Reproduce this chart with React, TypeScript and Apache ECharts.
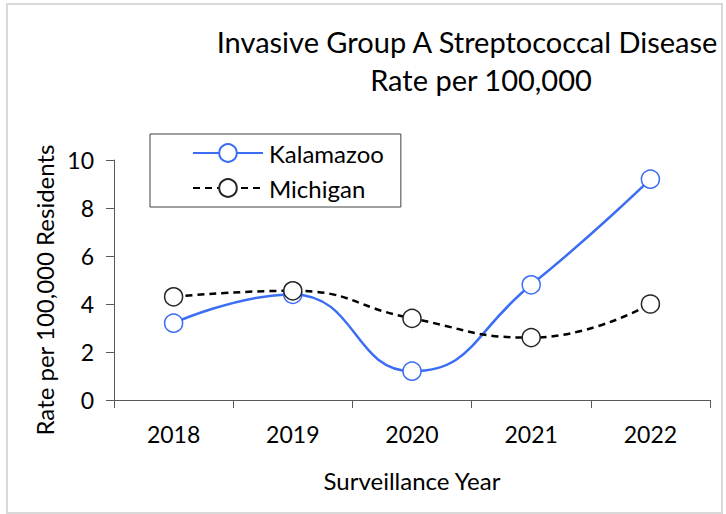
import React, { useEffect, useRef } from "react";
import * as echarts from "echarts";

const years = ["2018", "2019", "2020", "2021", "2022"];
const kalamazoo = [3.2, 4.4, 1.2, 4.8, 9.2];
const michigan = [4.3, 4.55, 3.4, 2.6, 4.0];
const yTicks = { min: 0, max: 10, interval: 2 };

const FONT = "Lato, 'Open Sans', sans-serif";

export default function App() {
  const ref = useRef<HTMLDivElement>(null);
  useEffect(() => {
    if (!ref.current) return;
    const chart = echarts.init(ref.current, null, { renderer: "svg" });
    chart.setOption({
      animation: false,
      backgroundColor: "#ffffff",
      textStyle: { fontFamily: FONT, color: "#000" },
      title: [
        {
          text: "Invasive Group A Streptococcal Disease",
          left: 462,
          top: 22,
          textAlign: "center",
          textStyle: { fontFamily: FONT, fontSize: 29, fontWeight: "normal", color: "#000" },
        },
        {
          text: "Rate per 100,000",
          left: 476,
          top: 60,
          textAlign: "center",
          textStyle: { fontFamily: FONT, fontSize: 29, fontWeight: "normal", color: "#000" },
        },
      ],
      graphic: [
        {
          type: "rect",
          shape: { x: 7, y: 4, width: 715, height: 509 },
          style: { fill: "none", stroke: "#d9d9d9", lineWidth: 2 },
          silent: true,
        },
      ],
      legend: {
        orient: "vertical",
        left: 150,
        top: 134,
        padding: [7, 17, 7, 42],
        itemGap: 11,
        itemWidth: 70,
        itemHeight: 22,
        borderColor: "#404040",
        borderWidth: 1,
        borderRadius: 0,
        textStyle: { fontFamily: FONT, fontSize: 24, lineHeight: 22, color: "#000", padding: [0, 0, 0, 1] },
        data: ["Kalamazoo", "Michigan"],
      },
      grid: { left: 114, right: 16, top: 160, bottom: 114, containLabel: false },
      xAxis: {
        type: "category",
        data: years,
        boundaryGap: true,
        name: "Surveillance Year",
        nameLocation: "middle",
        nameGap: 68,
        nameTextStyle: { fontFamily: FONT, fontSize: 24, color: "#000" },
        axisLine: { lineStyle: { color: "#595959", width: 1 } },
        axisTick: { show: true, length: 8, lineStyle: { color: "#595959" } },
        axisLabel: { fontFamily: FONT, fontSize: 23, color: "#000", margin: 22 },
        splitLine: { show: false },
      },
      yAxis: {
        type: "value",
        min: yTicks.min,
        max: yTicks.max,
        interval: yTicks.interval,
        name: "Rate per 100,000 Residents",
        nameLocation: "middle",
        nameGap: 54,
        nameTextStyle: { fontFamily: FONT, fontSize: 24, color: "#000", padding: [0, 20, 0, 0] },
        axisLine: { show: true, lineStyle: { color: "#595959", width: 1 } },
        axisTick: { show: true, length: 8, lineStyle: { color: "#595959" } },
        axisLabel: { fontFamily: FONT, fontSize: 23, color: "#000", margin: 20 },
        splitLine: { show: false },
      },
      series: [
        {
          name: "Kalamazoo",
          type: "line",
          data: kalamazoo,
          smooth: 0.5,
          symbol: "circle",
          symbolSize: 18,
          lineStyle: { color: "#3c6ef5", width: 2.5 },
          itemStyle: { color: "#ffffff", borderColor: "#3c6ef5", borderWidth: 1.5 },
          z: 2,
        },
        {
          name: "Michigan",
          type: "line",
          data: michigan,
          smooth: 0.5,
          symbol: "circle",
          symbolSize: 18,
          lineStyle: { color: "#000000", width: 2.5, type: [7, 5] },
          itemStyle: { color: "#ffffff", borderColor: "#262626", borderWidth: 1.5 },
          z: 3,
        },
      ],
    });
    return () => chart.dispose();
  }, []);
  return (
    <div
      ref={ref}
      style={{ position: "fixed", left: 0, top: 0, width: 726, height: 514 }}
    />
  );
}
